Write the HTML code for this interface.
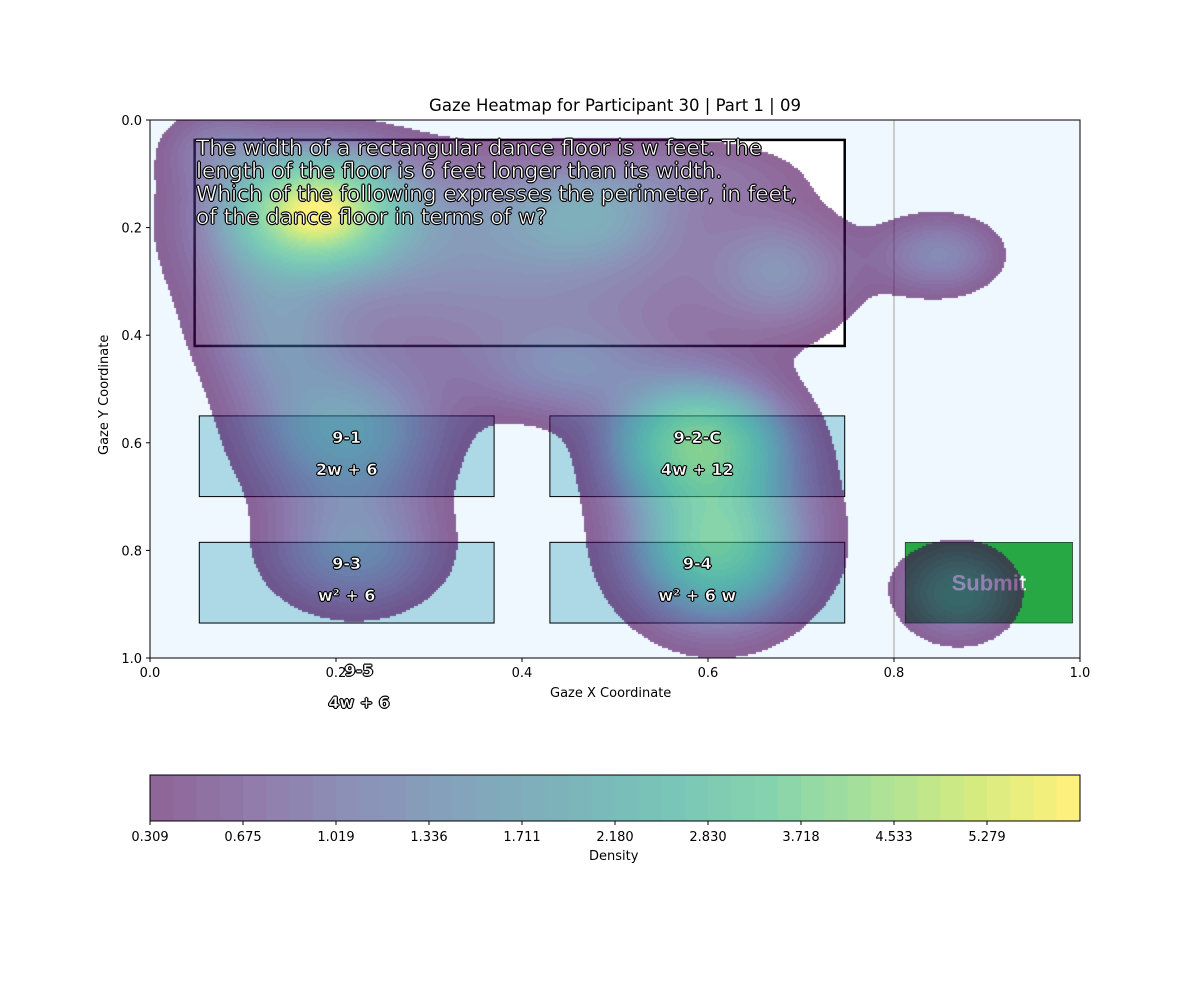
<!DOCTYPE html>
<html><head><meta charset="utf-8"><style>
body{margin:0;background:#fff;font-family:"DejaVu Sans","Liberation Sans",sans-serif;}
#wrap{position:relative;width:1200px;height:1000px;overflow:hidden}
.t{position:absolute;font-size:13px;color:#000}
.lbl{position:absolute;font-weight:bold;color:#fff;font-size:16px;-webkit-text-stroke:0.5px #000;text-shadow:-1px 0 #000,1px 0 #000,0 -1px #000,0 1px #000;transform:translateX(-50%);white-space:nowrap}
</style></head><body>
<div id="wrap">
<div class="t" style="left:0;width:1230px;text-align:center;top:96px;font-size:16.5px">Gaze Heatmap for Participant 30 | Part 1 | 09</div>
<svg id="svg" width="1200" height="1000" style="position:absolute;left:0;top:0"></svg>
<canvas id="cv" width="930" height="538" style="position:absolute;left:150px;top:120px"></canvas>
<svg id="svg2" width="1200" height="1000" style="position:absolute;left:0;top:0"></svg>
<div id="q" style="position:absolute;left:196px;top:137px;font-size:21.6px;line-height:23px;color:#fff;-webkit-text-stroke:0.5px #000;text-shadow:-1px 0 #000,1px 0 #000,0 -1px #000,0 1px #000;white-space:nowrap">The width of a rectangular dance floor is w feet. The<br>length of the floor is 6 feet longer than its width.<br>Which of the following expresses the perimeter, in feet,<br>of the dance floor in terms of w?</div>
<div class="t" style="left:97px;top:455px;transform:rotate(-90deg);transform-origin:0 0;white-space:nowrap">Gaze Y Coordinate</div>
<div class="t" style="left:550px;top:686px">Gaze X Coordinate</div>
<div class="t" style="left:589px;top:849px">Density</div>
</div>
<script>
const xTicks=[0.0,0.2,0.4,0.6,0.8,1.0];
const yTicks=[0.0,0.2,0.4,0.6,0.8,1.0];
const cbTicks=[0.309,0.675,1.019,1.336,1.711,2.180,2.830,3.718,4.533,5.279];
const gx=[0.38,0.18,0.17,0.07,0.47,0.68,0.60,0.85,0.21,0.22,0.14,0.59,0.61,0.61,0.45,0.87,0.40,0.12];
const gy=[0.20,0.17,0.17,0.05,0.17,0.28,0.10,0.25,0.58,0.80,0.42,0.60,0.79,0.76,0.47,0.88,0.36,0.30];
const gsx=[0.17,0.05,0.09,0.04,0.06,0.05,0.08,0.045,0.07,0.065,0.05,0.055,0.05,0.085,0.07,0.045,0.2,0.05];
const gsy=[0.10,0.06,0.10,0.05,0.06,0.07,0.05,0.05,0.09,0.08,0.08,0.07,0.08,0.14,0.06,0.065,0.1,0.12];
const gamp=[0.9,4.5,1.0,0.6,0.9,0.9,0.4,1.0,1.6,1.2,0.6,3.6,2.6,1.0,0.8,1.0,0.6,0.5];
const NB=40;
const PL=150,PT=120,PW=930,PH=538;
const X=v=>PL+v*PW, Y=v=>PT+v*PH;
const NS='http://www.w3.org/2000/svg';
function mk(svg,tag,a){const e=document.createElementNS(NS,tag);for(const k in a)e.setAttribute(k,a[k]);svg.appendChild(e);return e;}
const svg=document.getElementById('svg'),svg2=document.getElementById('svg2');
let r=mk(svg,'rect',{x:PL,y:PT,width:PW,height:PH,fill:'#f0f8ff'});


let l=mk(svg,'line',{x1:X(0.8),x2:X(0.8),y1:PT,y2:PT+PH,stroke:'#ccc','stroke-width':2});


const boxes=[['9-1','2w + 6',0.053,0.55,0.37,0.70],['9-2-C','4w + 12',0.43,0.55,0.747,0.70],['9-3','w² + 6',0.053,0.785,0.37,0.935],['9-4','w² + 6 w',0.43,0.785,0.747,0.935]];
boxes.forEach(b=>{let e=mk(svg,'rect',{x:X(b[2]),y:Y(b[3]),width:X(b[4])-X(b[2]),height:Y(b[5])-Y(b[3]),fill:'#add8e6',stroke:'#000','stroke-width':1});

});
let sb=mk(svg,'rect',{x:X(0.812),y:Y(0.785),width:X(0.992)-X(0.812),height:Y(0.935)-Y(0.785),fill:'#28a745',stroke:'#000','stroke-width':0.5});


let st=mk(svg,'text',{x:X(0.902),y:Y(0.86)+8,'text-anchor':'middle','font-size':22,'font-weight':'bold',fill:'#fff','font-family':'Liberation Sans'});st.textContent='Submit';


let qb=mk(svg,'rect',{x:X(0.048),y:Y(0.037),width:X(0.747)-X(0.048),height:Y(0.42)-Y(0.037),fill:'#fff',stroke:'#000','stroke-width':2.5});


const V=[[68,1,84],[72,40,120],[62,74,137],[49,104,142],[38,130,142],[31,158,137],[53,183,121],[109,205,89],[180,222,44],[253,231,37]];
function vir(t){t=Math.max(0,Math.min(1,t))*(V.length-1);const i=Math.min(V.length-2,Math.floor(t)),f=t-i;return V[i].map((c,k)=>c+(V[i+1][k]-c)*f);}
function band(d){
 if(d<cbTicks[0])return -1;
 for(let i=0;i<cbTicks.length-1;i++) if(d<cbTicks[i+1]) return Math.floor(i*4+4*(d-cbTicks[i])/(cbTicks[i+1]-cbTicks[i]));
 const last=cbTicks[cbTicks.length-1],step=(last-cbTicks[cbTicks.length-2]);
 return Math.min(NB-1,36+Math.floor(4*(d-last)/step));}
function dens(x,y){let s=0;for(let i=0;i<gx.length;i++){const dx=(x-gx[i])/gsx[i],dy=(y-gy[i])/gsy[i];s+=gamp[i]*Math.exp(-(dx*dx+dy*dy)/2);}return s;}
const cv=document.getElementById('cv'),ctx=cv.getContext('2d');
const S=2;
for(let py=0;py<PH;py+=S)for(let px=0;px<PW;px+=S){const b=band(dens((px+1)/PW,(py+1)/PH));if(b<0)continue;const c=vir(b/(NB-1));ctx.fillStyle=`rgba(${c[0]|0},${c[1]|0},${c[2]|0},0.6)`;ctx.fillRect(px,py,S,S);}
mk(svg2,'rect',{x:PL,y:PT,width:PW,height:PH,fill:'none',stroke:'#000','stroke-width':1});
xTicks.forEach(v=>{mk(svg2,'line',{x1:X(v),x2:X(v),y1:PT+PH,y2:PT+PH+4,stroke:'#000'});let t=mk(svg2,'text',{x:X(v),y:PT+PH+19,'text-anchor':'middle','font-size':13,'font-family':'DejaVu Sans'});t.textContent=v.toFixed(1);

});
yTicks.forEach(v=>{mk(svg2,'line',{x1:PL-4,x2:PL,y1:Y(v),y2:Y(v),stroke:'#000'});let t=mk(svg2,'text',{x:PL-8,y:Y(v)+5,'text-anchor':'end','font-size':13,'font-family':'DejaVu Sans'});t.textContent=v.toFixed(1);

});
const CL=150,CT=775,CW=930,CH=46;
for(let i=0;i<NB;i++){const c=vir(i/(NB-1));const bg=[255,255,255];const m=c.map((v,k)=>v*0.6+bg[k]*0.4);
let e=mk(svg2,'rect',{x:CL+i*CW/NB,y:CT,width:CW/NB+0.5,height:CH,fill:`rgb(${m[0]|0},${m[1]|0},${m[2]|0})`});

}
mk(svg2,'rect',{x:CL,y:CT,width:CW,height:CH,fill:'none',stroke:'#000'});
cbTicks.forEach((v,i)=>{const x=CL+i*4*CW/NB;mk(svg2,'line',{x1:x,x2:x,y1:CT+CH,y2:CT+CH+4,stroke:'#000'});let t=mk(svg2,'text',{x:x,y:CT+CH+20,'text-anchor':'middle','font-size':13,'font-family':'DejaVu Sans'});t.textContent=v.toFixed(3);

});
const wrap=document.getElementById('wrap');
function lab(txt,x,y,name){const d=document.createElement('div');d.className='lbl';d.textContent=txt;d.style.left=x+'px';d.style.top=y+'px';


wrap.appendChild(d);}
boxes.forEach(b=>{const cx=(X(b[2])+X(b[4]))/2;lab(b[0],cx,Y(b[3])+12,'answer-id-'+b[0]);lab(b[1],cx,Y(b[3])+44,'answer-text-'+b[0]);});
lab('9-5',359,661,'answer-id-9-5');lab('4w + 6',359,693,'answer-text-9-5');
</script>
</body></html>
